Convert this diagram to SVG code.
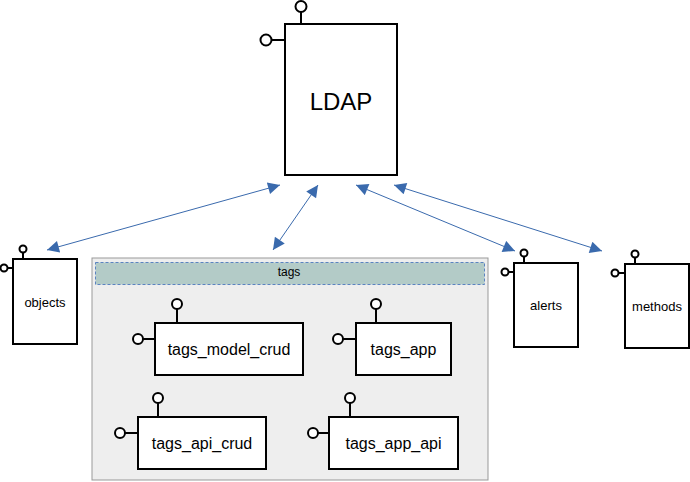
<svg xmlns="http://www.w3.org/2000/svg" width="690" height="482" viewBox="0 0 690 482">
<style>
.box{fill:#fff;stroke:#000;stroke-width:2}
.lp{fill:#fff;stroke:#000;stroke-width:2}
.st{stroke:#000;stroke-width:2}
.t{font-family:"Liberation Sans",Arial,sans-serif;fill:#000;text-anchor:middle;dominant-baseline:central}
.c{stroke:#3a6aad;stroke-width:1;fill:none;marker-start:url(#ah);marker-end:url(#ah)}
</style>
<defs>
<marker id="ah" viewBox="0 0 10 10" refX="10" refY="5" markerWidth="15" markerHeight="12" markerUnits="userSpaceOnUse" orient="auto-start-reverse">
<path d="M0,0 L10,5 L0,10 z" fill="#3a6aad"/>
</marker>
</defs>
<rect width="690" height="482" fill="#fff"/>
<g id="tags">
<rect x="92" y="258" width="396" height="222" fill="#eeeeee" stroke="#999" stroke-width="1"/>
<rect x="95.5" y="262.5" width="389" height="22" fill="#b3cbc7" stroke="#5b83c0" stroke-width="1" stroke-dasharray="3,2"/>
<text class="t" x="289" y="272" font-size="12">tags</text>
</g>
<g id="LDAP">
<line class="st" x1="301" y1="24" x2="301" y2="12"/>
<circle class="lp" cx="301" cy="6.5" r="5.5"/>
<line class="st" x1="285" y1="40" x2="272" y2="40"/>
<circle class="lp" cx="266" cy="40" r="5.5"/>
<rect class="box" x="285" y="24" width="112" height="151"/>
<text class="t" x="341" y="101" font-size="24">LDAP</text>
</g>
<g id="objects">
<line class="st" x1="23" y1="259" x2="23" y2="252"/>
<circle class="lp" cx="23" cy="249" r="3.5"/>
<line class="st" x1="13" y1="268" x2="7" y2="268"/>
<circle class="lp" cx="4" cy="268" r="3.5"/>
<rect class="box" x="13" y="259" width="64" height="85"/>
<text class="t" x="45" y="302" font-size="13">objects</text>
</g>
<g id="alerts">
<line class="st" x1="524" y1="263" x2="524" y2="256"/>
<circle class="lp" cx="524" cy="253" r="3.5"/>
<line class="st" x1="514" y1="272" x2="508" y2="272"/>
<circle class="lp" cx="505" cy="272" r="3.5"/>
<rect class="box" x="514" y="263" width="64" height="84"/>
<text class="t" x="546" y="305" font-size="13">alerts</text>
</g>
<g id="methods">
<line class="st" x1="635" y1="264" x2="635" y2="257"/>
<circle class="lp" cx="635" cy="254" r="3.5"/>
<line class="st" x1="625" y1="273" x2="618" y2="273"/>
<circle class="lp" cx="615" cy="273" r="3.5"/>
<rect class="box" x="625" y="264" width="64" height="84"/>
<text class="t" x="657" y="306" font-size="13">methods</text>
</g>
<g id="tags_model_crud">
<line class="st" x1="177" y1="323" x2="177" y2="309"/>
<circle class="lp" cx="177" cy="304" r="5"/>
<line class="st" x1="155" y1="339" x2="143" y2="339"/>
<circle class="lp" cx="138" cy="339" r="5"/>
<rect class="box" x="155" y="323" width="148" height="52"/>
<text class="t" x="229" y="349" font-size="16">tags_model_crud</text>
</g>
<g id="tags_app">
<line class="st" x1="376" y1="323" x2="376" y2="309"/>
<circle class="lp" cx="376" cy="304" r="5"/>
<line class="st" x1="356" y1="339" x2="343" y2="339"/>
<circle class="lp" cx="338" cy="339" r="5"/>
<rect class="box" x="356" y="323" width="95" height="52"/>
<text class="t" x="403.5" y="349" font-size="16">tags_app</text>
</g>
<g id="tags_api_crud">
<line class="st" x1="158" y1="417" x2="158" y2="403"/>
<circle class="lp" cx="158" cy="398" r="5"/>
<line class="st" x1="138" y1="433" x2="125" y2="433"/>
<circle class="lp" cx="120" cy="433" r="5"/>
<rect class="box" x="138" y="417" width="128" height="52"/>
<text class="t" x="202" y="443" font-size="16">tags_api_crud</text>
</g>
<g id="tags_app_api">
<line class="st" x1="350" y1="417" x2="350" y2="403"/>
<circle class="lp" cx="350" cy="398" r="5"/>
<line class="st" x1="329" y1="433" x2="318" y2="433"/>
<circle class="lp" cx="313" cy="433" r="5"/>
<rect class="box" x="329" y="417" width="129" height="52"/>
<text class="t" x="393.5" y="443" font-size="16">tags_app_api</text>
</g>
<g id="connectors">
<line class="c" x1="47" y1="250" x2="280" y2="185"/>
<line class="c" x1="273" y1="250" x2="318" y2="185"/>
<line class="c" x1="356" y1="185" x2="515" y2="251"/>
<line class="c" x1="394" y1="185" x2="602" y2="251"/>
</g>
</svg>
